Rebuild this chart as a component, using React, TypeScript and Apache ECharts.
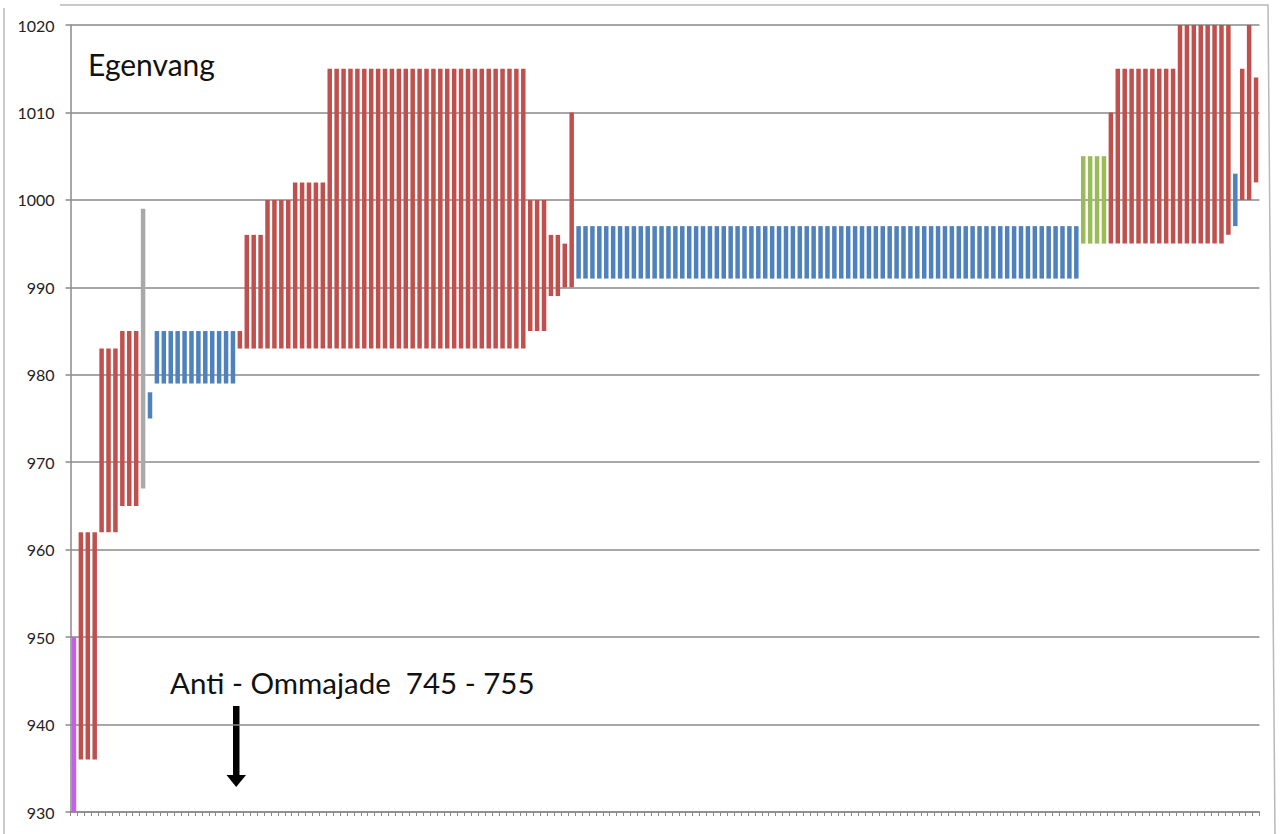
import React, { useEffect, useRef } from "react";
import * as echarts from "echarts";

// Lower end of each floating bar (one per category, left to right)
const lows: number[] = [
  930, 936, 936, 936, 962, 962, 962, 965, 965, 965,
  967, 975,
  979, 979, 979, 979, 979, 979, 979, 979, 979, 979, 979, 979,
  983, 983, 983, 983, 983, 983, 983, 983, 983, 983,
  983, 983, 983, 983, 983, 983, 983, 983, 983, 983,
  983, 983, 983, 983, 983, 983, 983, 983, 983, 983,
  983, 983, 983, 983, 983, 983, 983, 983, 983, 983,
  983, 983,
  985, 985, 985,
  989, 989,
  990, 990,
  991, 991, 991, 991, 991, 991, 991, 991, 991, 991,
  991, 991, 991, 991, 991, 991, 991, 991, 991, 991,
  991, 991, 991, 991, 991, 991, 991, 991, 991, 991,
  991, 991, 991, 991, 991, 991, 991, 991, 991, 991,
  991, 991, 991, 991, 991, 991, 991, 991, 991, 991,
  991, 991, 991, 991, 991, 991, 991, 991, 991, 991,
  991, 991, 991, 991, 991, 991, 991, 991, 991, 991,
  991, 991, 991,
  995, 995, 995, 995, 995, 995, 995, 995, 995, 995,
  995, 995, 995, 995, 995, 995, 995, 995, 995, 995,
  995,
  996, 997, 1000, 1000, 1002,
];

// Upper end of each floating bar
const highs: number[] = [
  950, 962, 962, 962, 983, 983, 983, 985, 985, 985,
  999, 978,
  985, 985, 985, 985, 985, 985, 985, 985, 985, 985, 985, 985,
  985,
  996, 996, 996,
  1000, 1000, 1000, 1000,
  1002, 1002, 1002, 1002, 1002,
  1015, 1015, 1015, 1015, 1015, 1015, 1015, 1015, 1015, 1015,
  1015, 1015, 1015, 1015, 1015, 1015, 1015, 1015, 1015, 1015,
  1015, 1015, 1015, 1015, 1015, 1015, 1015, 1015, 1015,
  1000, 1000, 1000,
  996, 996,
  995, 1010,
  997, 997, 997, 997, 997, 997, 997, 997, 997, 997,
  997, 997, 997, 997, 997, 997, 997, 997, 997, 997,
  997, 997, 997, 997, 997, 997, 997, 997, 997, 997,
  997, 997, 997, 997, 997, 997, 997, 997, 997, 997,
  997, 997, 997, 997, 997, 997, 997, 997, 997, 997,
  997, 997, 997, 997, 997, 997, 997, 997, 997, 997,
  997, 997, 997, 997, 997, 997, 997, 997, 997, 997,
  997, 997, 997,
  1005, 1005, 1005, 1005,
  1010,
  1015, 1015, 1015, 1015, 1015, 1015, 1015, 1015, 1015,
  1020, 1020, 1020, 1020, 1020, 1020, 1020,
  1020, 1003, 1015, 1020, 1014,
];

// Colour group of each bar: P purple, R red, S grey, B blue, G green
const colorKeys: string[] = [
  "P",
  "R", "R", "R", "R", "R", "R", "R", "R", "R",
  "S",
  "B", "B", "B", "B", "B", "B", "B", "B", "B", "B", "B", "B", "B",
  "R", "R", "R", "R", "R", "R", "R", "R", "R", "R",
  "R", "R", "R", "R", "R", "R", "R", "R", "R", "R",
  "R", "R", "R", "R", "R", "R", "R", "R", "R", "R",
  "R", "R", "R", "R", "R", "R", "R", "R", "R", "R",
  "R", "R", "R", "R", "R", "R", "R", "R", "R",
  "B", "B", "B", "B", "B", "B", "B", "B", "B", "B",
  "B", "B", "B", "B", "B", "B", "B", "B", "B", "B",
  "B", "B", "B", "B", "B", "B", "B", "B", "B", "B",
  "B", "B", "B", "B", "B", "B", "B", "B", "B", "B",
  "B", "B", "B", "B", "B", "B", "B", "B", "B", "B",
  "B", "B", "B", "B", "B", "B", "B", "B", "B", "B",
  "B", "B", "B", "B", "B", "B", "B", "B", "B", "B",
  "B", "B", "B",
  "G", "G", "G", "G",
  "R", "R", "R", "R", "R", "R", "R", "R", "R", "R",
  "R", "R", "R", "R", "R", "R", "R", "R",
  "B",
  "R", "R", "R",
];

const palette: Record<string, string> = {
  P: "#C45FE8",
  R: "#C0504D",
  S: "#A9A9A9",
  B: "#4F81BD",
  G: "#9BBB59",
};

const titleText = "Egenvang";
const noteText = "Anti - Ommajade  745 - 755";

export default function App() {
  const ref = useRef<HTMLDivElement>(null);

  useEffect(() => {
    if (!ref.current) return;
    const chart = echarts.init(ref.current, null, { renderer: "svg" });
    const categories = lows.map((_, i) => String(i + 1));
    const gray = "#8a8a8a";

    chart.setOption({
      animation: false,
      backgroundColor: "#ffffff",
      grid: { left: 70.5, right: 20.5, top: 25, bottom: 22, containLabel: false },
      xAxis: {
        type: "category",
        data: categories,
        boundaryGap: true,
        axisLine: { show: true, lineStyle: { color: gray, width: 1.5 } },
        axisTick: { show: true, interval: 0, length: 4, lineStyle: { color: gray, width: 1 } },
        axisLabel: { show: false },
        splitLine: { show: false },
      },
      yAxis: {
        type: "value",
        min: 930,
        max: 1020,
        interval: 10,
        axisLine: { show: true, lineStyle: { color: gray, width: 1.5 } },
        axisTick: { show: true, length: 5, lineStyle: { color: gray, width: 1.5 } },
        axisLabel: {
          fontFamily: "Lato",
          fontSize: 16,
          color: "#222",
          margin: 16,
          formatter: (v: number) => String(v),
        },
        splitLine: { show: true, lineStyle: { color: gray, width: 1.5 } },
      },
      series: [
        {
          type: "bar",
          stack: "range",
          barWidth: "65%",
          silent: true,
          itemStyle: { color: "rgba(0,0,0,0)" },
          data: lows,
        },
        {
          type: "bar",
          stack: "range",
          barWidth: "65%",
          data: highs.map((h, i) => ({
            value: h - lows[i],
            itemStyle: { color: palette[colorKeys[i]] },
          })),
        },
      ],
      graphic: [
        {
          type: "polyline",
          silent: true,
          shape: { points: [[4, 834], [4, 8]] },
          style: { stroke: "#b8b8b8", lineWidth: 1.5, fill: "none" },
        },
        {
          type: "polyline",
          silent: true,
          shape: { points: [[60, 5], [1268, 5], [1275, 834]] },
          style: { stroke: "#b8b8b8", lineWidth: 1.5, fill: "none" },
        },
        {
          type: "text",
          x: 88,
          y: 64,
          style: {
            text: titleText,
            fontFamily: "Lato",
            fontSize: 30,
            fill: "#111",
            verticalAlign: "middle",
            align: "left",
          },
        },
        {
          type: "text",
          x: 170,
          y: 682,
          style: {
            text: noteText,
            fontFamily: "Lato",
            fontSize: 29.5,
            fill: "#111",
            verticalAlign: "middle",
            align: "left",
          },
        },
        {
          type: "rect",
          silent: true,
          shape: { x: 233, y: 706, width: 6.5, height: 70 },
          style: { fill: "#000" },
        },
        {
          type: "polygon",
          silent: true,
          shape: { points: [[226.5, 775], [246, 775], [236.2, 787]] },
          style: { fill: "#000" },
        },
      ],
    });

    return () => chart.dispose();
  }, []);

  return (
    <div
      ref={ref}
      style={{ position: "fixed", left: 0, top: 0, width: 1280, height: 834 }}
    />
  );
}
